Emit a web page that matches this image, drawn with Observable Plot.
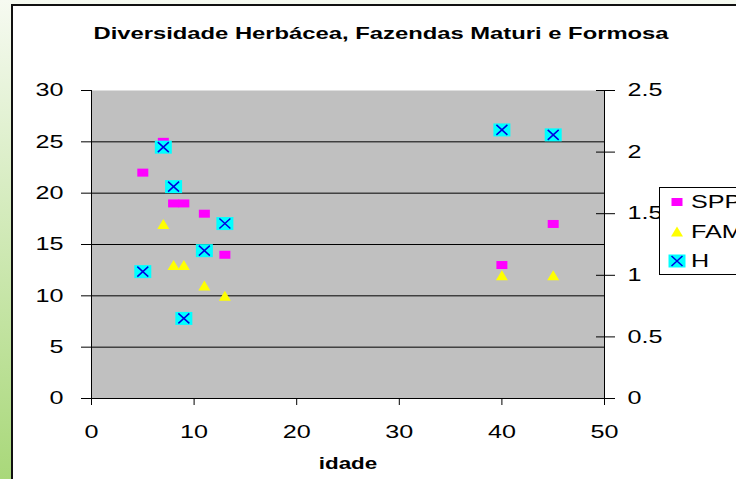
<!DOCTYPE html>
<html>
<head>
<meta charset="utf-8">
<script src="https://cdn.jsdelivr.net/npm/d3@7"></script>
<script src="https://cdn.jsdelivr.net/npm/@observablehq/plot@0.6"></script>
<style>
  html, body { margin: 0; padding: 0; }
  body { width: 736px; height: 479px; overflow: hidden; position: relative;
         background: linear-gradient(#f6faf1, #a9d87a); font-family: "Liberation Sans", Arial, sans-serif; }
  #frame { position: absolute; left: 11px; top: 4px; width: 800px; height: 600px;
           background: #fff; border: 2px solid #111; box-sizing: border-box; }
  #chart, #legend { position: absolute; left: 0; top: 0; }
</style>
</head>
<body>
<div id="frame"></div>
<div id="chart"></div>
<svg id="legend" width="736" height="479"></svg>
<script>
// ---- data ----
const idade = [5, 7, 8, 9, 11, 13, 40, 45];
const spp   = [22, 25, 19, 19, 18, 14, 13, 17];
const fam   = [null, 17, 13, 13, 11, 10, 12, 12];
const hIdx  = [1.03, 2.04, 1.72, 0.65, 1.2, 1.42, 2.18, 2.14];
const seriesNames = ["SPP", "FAM", "H"];
const xTicks  = [0, 10, 20, 30, 40, 50];
const yTicks  = [0, 5, 10, 15, 20, 25, 30];
const y2Ticks = [0, 0.5, 1, 1.5, 2, 2.5];
const titleText = "Diversidade Herbácea, Fazendas Maturi e Formosa";
const xLabel = "idade";

const yMax = 30, y2Max = 2.5, k = yMax / y2Max;
const rows = idade.map((x, i) => ({idade: x, spp: spp[i], fam: fam[i], h: hIdx[i]}));

const rectSym = (w, h) => ({draw(c) { c.rect(-w / 2, -h / 2, w, h); }});
const triSym  = (w, h) => ({draw(c) { c.moveTo(0, -h / 2); c.lineTo(w / 2, h / 2); c.lineTo(-w / 2, h / 2); c.closePath(); }});
const xSym    = (w, h) => ({draw(c) { c.moveTo(-w / 2, -h / 2); c.lineTo(w / 2, h / 2); c.moveTo(w / 2, -h / 2); c.lineTo(-w / 2, h / 2); }});

const colors = {spp: "#ff00ff", fam: "#ffff00", h: "#00ffff", hx: "#0000e0"};
const FONT = '"Liberation Sans", Arial, sans-serif';

const plot = Plot.plot({
  width: 736, height: 479,
  marginLeft: 91, marginRight: 132, marginTop: 90, marginBottom: 81,
  style: {background: "transparent", fontFamily: FONT, color: "#000", overflow: "visible"},
  x: {domain: [0, 50]},
  y: {domain: [0, yMax]},
  marks: [
    Plot.frame({fill: "#c0c0c0", stroke: "none"}),
    Plot.gridY(yTicks.filter(d => d > 0 && d < yMax), {stroke: "#000", strokeOpacity: 1}),
    Plot.ruleX([0, 50], {stroke: "#000"}),
    Plot.ruleY([0], {stroke: "#000"}),
    Plot.axisY(yTicks, {anchor: "left", tickSize: 10, tickPadding: 18, fontSize: 18, label: null}),
    Plot.axisY(y2Ticks.map(d => d * k), {anchor: "right", tickSize: 19, dx: -9, tickPadding: 13, fontSize: 18,
      label: null, tickFormat: d => String(+(d / k).toFixed(2))}),
    Plot.axisX(xTicks, {anchor: "bottom", tickSize: 7, tickPadding: 20, fontSize: 18, label: null}),
    Plot.text([xLabel], {frameAnchor: "bottom", lineAnchor: "middle", dy: 65, fontSize: 16, fontWeight: "bold"}),
    Plot.text([titleText], {frameAnchor: "top", lineAnchor: "middle", dy: -57, dx: 33, fontSize: 17, fontWeight: "bold"}),
    Plot.dot(rows, {x: "idade", y: "spp", symbol: rectSym(11, 8), fill: colors.spp}),
    Plot.dot(rows.filter(d => d.fam != null), {x: "idade", y: "fam", symbol: triSym(12, 10), fill: colors.fam}),
    Plot.dot(rows, {x: "idade", y: d => d.h * k, symbol: rectSym(17, 13), fill: colors.h}),
    Plot.dot(rows, {x: "idade", y: d => d.h * k, symbol: xSym(11, 10), stroke: colors.hx, strokeWidth: 1.5})
  ]
});
document.getElementById("chart").appendChild(plot);

// horizontally stretched text, as in the reference
d3.select(plot).selectAll("text").each(function() {
  const t = this.getAttribute("transform");
  if (t) this.setAttribute("transform", t + " scale(1.4,1)");
});

// ---- legend ----
const lg = d3.select("#legend").style("font-family", FONT);
lg.append("rect").attr("x", 659.5).attr("y", 187.5).attr("width", 120).attr("height", 87)
  .attr("fill", "#fff").attr("stroke", "#000");
const symPath = s => { const p = d3.path(); s.draw(p); return p.toString(); };
const items = [
  {name: seriesNames[0], y: 202, draw: g => g.append("path").attr("d", symPath(rectSym(11, 8))).attr("fill", colors.spp)},
  {name: seriesNames[1], y: 231.5, draw: g => g.append("path").attr("d", symPath(triSym(12, 10))).attr("fill", colors.fam)},
  {name: seriesNames[2], y: 261, draw: g => {
    g.append("path").attr("d", symPath(rectSym(17, 13))).attr("fill", colors.h);
    g.append("path").attr("d", symPath(xSym(11, 10))).attr("fill", "none").attr("stroke", colors.hx).attr("stroke-width", 1.5);
  }}
];
items.forEach(it => {
  const g = lg.append("g").attr("transform", `translate(677,${it.y})`);
  it.draw(g);
  lg.append("text").attr("transform", `translate(691,${it.y}) scale(1.4,1)`)
    .attr("dy", "0.35em").attr("font-size", 18).text(it.name);
});
</script>
</body>
</html>
